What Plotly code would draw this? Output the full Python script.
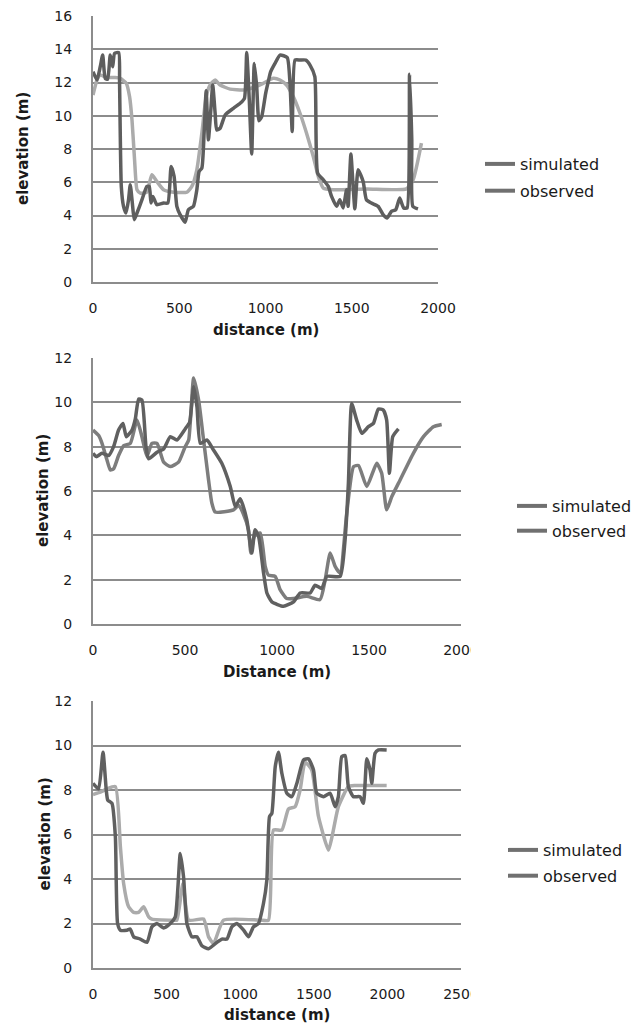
import plotly.graph_objects as go

W, H = 633, 1028

# ---------------- data ----------------
# Chart 1 (top)
x1_sim = [0, 23, 42, 81, 129, 158, 193, 212, 226, 241, 255, 274, 312, 341, 370, 409, 467, 544, 573, 602,
          631, 656, 679, 708, 737, 795, 872, 930, 987, 1045, 1084, 1122, 1161, 1200, 1238, 1277, 1306,
          1335, 1393, 1585, 1817, 1856, 1904]
y1_sim = [11.25, 12.15, 12.45, 12.3, 12.3, 12.25, 11.95, 11.15, 9.75, 7.35, 5.55, 5.35, 5.4, 6.45, 6.05,
          5.55, 5.4, 5.4, 5.75, 6.75, 8.95, 11.15, 11.85, 12.15, 11.85, 11.6, 11.55, 11.7, 11.95, 12.25,
          12.15, 11.85, 11.15, 10.15, 8.95, 7.55, 6.35, 5.65, 5.55, 5.6, 5.6, 6.15, 8.35]
x1_obs = [0, 23, 42, 56, 71, 85, 100, 114, 125, 149, 154, 164, 177, 191, 206, 216, 228, 239, 255, 284,
          312, 326, 336, 347, 370, 409, 434, 453, 470, 486, 505, 534, 553, 582, 602, 615, 631, 644, 656,
          669, 683, 694, 708, 717, 737, 766, 814, 853, 878, 891, 906, 920, 935, 949, 962, 978, 1001,
          1016, 1030, 1055, 1084, 1126, 1142, 1155, 1171, 1200, 1234, 1258, 1286, 1302, 1335, 1364,
          1383, 1412, 1431, 1450, 1470, 1479, 1495, 1508, 1518, 1537, 1566, 1585, 1614, 1653, 1682,
          1705, 1730, 1755, 1778, 1801, 1821, 1835, 1848, 1854, 1884]
y1_obs = [12.65, 12.15, 12.95, 13.65, 12.25, 12.2, 13.65, 12.95, 13.75, 13.8, 11.95, 5.75, 4.55, 4.15,
          4.95, 5.85, 4.75, 3.75, 4.15, 4.95, 5.75, 5.75, 4.75, 5.15, 4.65, 4.75, 4.75, 6.95, 6.35, 4.55,
          4.05, 3.6, 4.35, 4.55, 5.55, 6.65, 6.85, 8.95, 11.5, 8.55, 10.35, 11.85, 10.15, 9.15, 9.25,
          10.05, 10.45, 10.75, 11.05, 13.8, 10.95, 7.7, 13.15, 11.75, 9.7, 9.95, 11.35, 12.05, 12.65,
          13.15, 13.65, 13.5, 11.95, 9.05, 13.35, 13.35, 13.35, 13.05, 12.35, 6.55, 6.15, 5.75, 5.15,
          4.55, 4.95, 4.45, 5.55, 4.55, 7.7, 5.75, 4.4, 6.75, 6.05, 4.95, 4.75, 4.55, 4.05, 3.85, 4.25,
          4.35, 5.05, 4.45, 4.45, 12.5, 8.55, 4.55, 4.4]

# Chart 2 (middle)
x2_sim = [0, 31, 49, 76, 94, 112, 139, 167, 203, 239, 266, 293, 320, 348, 384, 420, 465, 501, 520, 547,
          574, 601, 628, 646, 664, 764, 791, 818, 845, 858, 876, 909, 936, 954, 990, 1017, 1053, 1090,
          1162, 1234, 1262, 1289, 1316, 1343, 1379, 1416, 1443, 1488, 1542, 1569, 1596, 1624, 1669,
          1741, 1796, 1850, 1895]
y2_sim = [8.75, 8.5, 8.15, 7.4, 6.95, 7.0, 7.6, 8.05, 8.15, 9.2, 8.45, 7.55, 8.15, 8.15, 7.3, 7.1, 7.3,
          8.0, 8.3, 11.1, 10.1, 8.3, 6.5, 5.45, 5.05, 5.15, 5.35, 4.95, 4.25, 3.2, 3.95, 4.1, 2.6, 2.2,
          2.15, 1.55, 1.15, 1.15, 1.25, 1.1, 2.0, 3.2, 2.6, 2.3, 5.0, 7.1, 7.15, 6.2, 7.25, 6.8, 5.15,
          5.75, 6.5, 7.7, 8.45, 8.9, 9.0]
x2_obs = [0, 18, 49, 85, 112, 139, 163, 181, 212, 230, 248, 266, 288, 302, 348, 384, 420, 456, 501, 525,
          547, 565, 583, 619, 655, 700, 746, 773, 800, 836, 863, 881, 900, 927, 945, 972, 1035, 1090,
          1126, 1180, 1207, 1243, 1271, 1343, 1370, 1388, 1406, 1433, 1461, 1497, 1524, 1551, 1578,
          1596, 1611, 1629, 1660]
y2_obs = [7.7, 7.55, 7.7, 7.6, 8.0, 8.75, 9.05, 8.45, 8.75, 9.25, 10.15, 10.1, 8.0, 7.45, 7.75, 7.9,
          8.45, 8.3, 8.8, 9.1, 10.7, 9.8, 8.15, 8.3, 7.85, 7.25, 6.2, 5.3, 5.65, 4.7, 3.2, 4.25, 3.95,
          2.3, 1.4, 1.0, 0.8, 1.0, 1.4, 1.4, 1.75, 1.6, 2.15, 2.15, 3.8, 6.35, 9.95, 9.2, 8.6, 8.9, 9.05,
          9.7, 9.65, 9.2, 6.8, 8.45, 8.8]

# Chart 3 (bottom)
x3_sim = [0, 50, 95, 152, 186, 208, 242, 276, 310, 344, 378, 400, 548, 570, 611, 650, 751, 785, 819, 887,
          1136, 1192, 1226, 1283, 1328, 1373, 1407, 1441, 1486, 1532, 1600, 1633, 1667, 1735, 1781, 1995]
y3_sim = [7.8, 7.9, 8.05, 8.15, 5.45, 3.8, 2.75, 2.5, 2.5, 2.75, 2.3, 2.2, 2.15, 2.15, 3.8, 2.15, 2.2,
          1.4, 1.1, 2.15, 2.15, 2.15, 6.2, 6.2, 7.15, 7.25, 8.0, 9.25, 8.9, 6.8, 5.3, 6.2, 7.25, 8.15,
          8.2, 8.2]
x3_obs = [0, 38, 68, 90, 100, 129, 152, 167, 186, 231, 253, 276, 321, 367, 400, 434, 480, 525, 559, 593,
          615, 638, 672, 706, 740, 785, 842, 876, 910, 943, 977, 1023, 1057, 1090, 1124, 1158, 1181,
          1199, 1215, 1238, 1260, 1283, 1317, 1351, 1385, 1430, 1464, 1498, 1520, 1566, 1611, 1645,
          1667, 1690, 1713, 1735, 1769, 1814, 1837, 1860, 1882, 1894, 1916, 1939, 1995]
y3_obs = [8.3, 8.05, 9.7, 8.0, 7.55, 7.4, 5.9, 2.0, 1.7, 1.7, 1.75, 1.4, 1.3, 1.15, 1.85, 2.0, 1.8, 2.0,
          2.3, 5.15, 4.1, 2.0, 1.4, 1.4, 1.0, 0.87, 1.15, 1.3, 1.3, 1.85, 2.0, 1.7, 1.4, 1.85, 2.0, 2.9,
          3.95, 6.8, 6.95, 9.05, 9.7, 8.75, 7.85, 7.7, 8.3, 9.35, 9.4, 8.9, 7.85, 7.7, 7.85, 7.25, 7.7,
          9.5, 9.55, 8.15, 7.7, 7.7, 7.4, 9.4, 8.9, 8.3, 9.65, 9.8, 9.8]

series_names = ["simulated", "observed"]
x_titles = ["distance (m)", "Distance (m)", "distance (m)"]
y_title = "elevation (m)"

# ---------------- helpers ----------------
def fx(px):
    return px / W

def fy(py):
    return 1 - py / H

GRID = "#8c8c8c"
TXT = "#1a1a1a"
FONT = "DejaVu Sans"

panels = [
    dict(x0=93, x1=438, ytop=16, ybot=282, xr=2000, yr=16, sim=(x1_sim, y1_sim), obs=(x1_obs, y1_obs),
         csim="#ababab", cobs="#5e5e5e", ytitle_x=23, xtitle_y=330, leg=(480, 147), gap=3),
    dict(x0=93, x1=461, ytop=358, ybot=624, xr=2000, yr=12, sim=(x2_sim, y2_sim), obs=(x2_obs, y2_obs),
         csim="#7d7d7d", cobs="#606060", ytitle_x=43, xtitle_y=672, leg=(512, 489), gap=1),
    dict(x0=93, x1=461, ytop=701, ybot=968, xr=2500, yr=12, sim=(x3_sim, y3_sim), obs=(x3_obs, y3_obs),
         csim="#ababab", cobs="#606060", ytitle_x=44, xtitle_y=1015, leg=(503, 833), gap=2),
]

fig = go.Figure()
layout = dict(
    width=W, height=H, margin=dict(l=0, r=0, t=0, b=0, autoexpand=False),
    paper_bgcolor="white", plot_bgcolor="white",
    font=dict(family=FONT, size=14, color=TXT),
    annotations=[], shapes=[],
)

for i, p in enumerate(panels, start=1):
    xa = "x" if i == 1 else f"x{i}"
    ya = "y" if i == 1 else f"y{i}"
    lg = "legend" if i == 1 else f"legend{i}"
    fig.add_trace(go.Scatter(x=p["sim"][0], y=p["sim"][1], mode="lines", xaxis=xa, yaxis=ya,
                             line=dict(color=p["csim"], width=3.5, shape="spline", smoothing=0.5),
                             showlegend=False, hoverinfo="skip"))
    fig.add_trace(go.Scatter(x=p["obs"][0], y=p["obs"][1], mode="lines", xaxis=xa, yaxis=ya,
                             line=dict(color=p["cobs"], width=3.5, shape="spline", smoothing=0.5),
                             showlegend=False, hoverinfo="skip"))
    for k, nm in enumerate(series_names):
        fig.add_trace(go.Scatter(x=[None], y=[None], mode="lines", xaxis=xa, yaxis=ya, name=nm,
                                 legend=lg, legendgroup=f"{i}{k}",
                                 line=dict(color="#707070", width=4)))
    xkey = "xaxis" if i == 1 else f"xaxis{i}"
    ykey = "yaxis" if i == 1 else f"yaxis{i}"
    layout[xkey] = dict(domain=[fx(p["x0"]), fx(p["x1"])], anchor=ya, range=[0, p["xr"]],
                        tickmode="array", tickvals=list(range(0, p["xr"] + 1, 500)),
                        showgrid=False, zeroline=False, showline=True, linecolor=GRID, linewidth=2,
                        ticks="", ticklabelstandoff=12, tickfont=dict(size=14, color=TXT))
    layout[ykey] = dict(domain=[fy(p["ybot"]), fy(p["ytop"])], anchor=xa, range=[0, p["yr"]],
                        tickmode="array", tickvals=list(range(0, p["yr"] + 1, 2)),
                        showgrid=True, gridcolor=GRID, gridwidth=2, zeroline=False,
                        showline=True, linecolor=GRID, linewidth=2,
                        ticks="", ticklabelstandoff=16, tickfont=dict(size=14, color=TXT))
    layout[lg] = dict(x=fx(p["leg"][0]), y=fy(p["leg"][1]), xanchor="left", yanchor="top",
                      bgcolor="rgba(0,0,0,0)", borderwidth=0, traceorder="grouped",
                      tracegroupgap=p["gap"], font=dict(family=FONT, size=16, color=TXT))
    layout["annotations"].append(dict(text=f"<b>{y_title}</b>", xref="paper", yref="paper",
                                      x=fx(p["ytitle_x"]), y=fy((p["ytop"] + p["ybot"]) / 2),
                                      textangle=-90, showarrow=False, xanchor="center", yanchor="middle",
                                      font=dict(family=FONT, size=15, color=TXT)))
    layout["annotations"].append(dict(text=f"<b>{x_titles[i-1]}</b>", xref="paper", yref="paper",
                                      x=fx((p["x0"] + p["x1"]) / 2), y=fy(p["xtitle_y"]),
                                      showarrow=False, xanchor="center", yanchor="middle",
                                      font=dict(family=FONT, size=15, color=TXT)))

# the source image is cropped just right of the last x tick label in charts 2 and 3
for ymid in (648, 988):
    layout["shapes"].append(dict(type="rect", xref="paper", yref="paper", layer="above",
                                 x0=fx(471), x1=fx(495), y0=fy(ymid + 12), y1=fy(ymid - 12),
                                 fillcolor="white", line=dict(width=0)))

fig.update_layout(**layout)
fig.write_html("out.html")
